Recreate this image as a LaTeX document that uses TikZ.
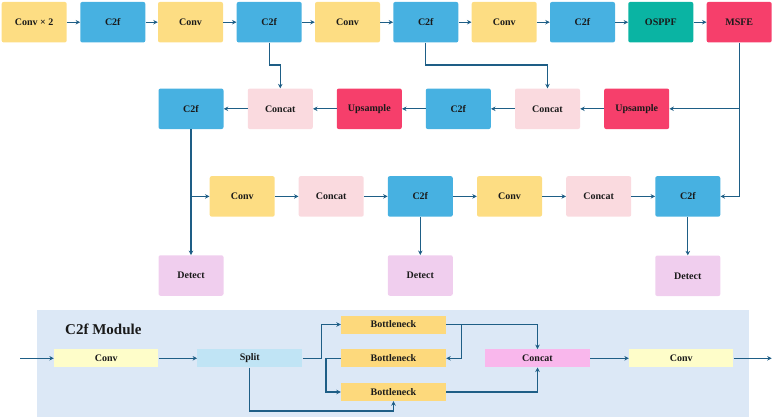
\documentclass[tikz,border=0pt]{standalone}
\usepackage{fontspec}
\setmainfont{Liberation Serif}
\usetikzlibrary{arrows.meta}
\definecolor{convY}{HTML}{FDDD83}
\definecolor{cfB}{HTML}{47B1E1}
\definecolor{osp}{HTML}{0AB4A3}
\definecolor{msfe}{HTML}{F63F6B}
\definecolor{catP}{HTML}{FADADF}
\definecolor{detL}{HTML}{F0CEEE}
\definecolor{arr}{HTML}{1E5E86}
\definecolor{bgB}{HTML}{DCE8F6}
\definecolor{bconv}{HTML}{FEFDC9}
\definecolor{bsplit}{HTML}{C0E4F5}
\definecolor{bneck}{HTML}{FDD97C}
\definecolor{bcat}{HTML}{F9B7EC}
\definecolor{txt}{HTML}{1A1A1A}
\begin{document}
\begin{tikzpicture}[x=1pt,y=-1pt,
  blk/.style={rectangle,rounded corners=2pt,minimum width=65pt,minimum height=40.5pt,inner sep=0pt,
    font=\fontsize{10}{12}\selectfont\bfseries,text=txt},
  convb/.style={blk,fill=convY},
  cfb/.style={blk,fill=cfB},
  ospb/.style={blk,fill=osp},
  msb/.style={blk,fill=msfe},
  catb/.style={blk,fill=catP},
  detb/.style={blk,fill=detL},
  sblk/.style={rectangle,minimum width=105pt,minimum height=18pt,inner sep=0pt,
    font=\fontsize{10}{12}\selectfont\bfseries,text=txt},
  conn/.style={draw=arr,line width=1.2pt},
  arw/.style={conn,-{Stealth[length=4.5pt,width=4.5pt]}}
]
\useasboundingbox (0,0) rectangle (779,418);
% top row
\node[convb] (t1) at (34.2,22.2) {Conv × 2};
\node[cfb]   (t2) at (112.8,22.2) {C2f};
\node[convb] (t3) at (190.5,22.2) {Conv};
\node[cfb]   (t4) at (269.2,22.2) {C2f};
\node[convb] (t5) at (347.5,22.2) {Conv};
\node[cfb]   (t6) at (425.8,22.2) {C2f};
\node[convb] (t7) at (504.2,22.2) {Conv};
\node[cfb]   (t8) at (582.5,22.2) {C2f};
\node[ospb]  (t9) at (660.8,22.2) {OSPPF};
\node[msb]   (t10) at (739.2,22.2) {MSFE};
% row 2
\node[cfb]  (m1) at (191,108.8) {C2f};
\node[catb] (m2) at (280.3,108.8) {Concat};
\node[msb]  (m3) at (369.3,108.8) {Upsample};
\node[cfb]  (m4) at (458.3,108.8) {C2f};
\node[catb] (m5) at (547.5,108.8) {Concat};
\node[msb]  (m6) at (636.7,108.8) {Upsample};
% row 3
\node[convb] (r1) at (242.2,196.4) {Conv};
\node[catb]  (r2) at (331.2,196.4) {Concat};
\node[cfb]   (r3) at (420.3,196.4) {C2f};
\node[convb] (r4) at (509.5,196.4) {Conv};
\node[catb]  (r5) at (598.7,196.4) {Concat};
\node[cfb]   (r6) at (687.8,196.4) {C2f};
% detect
\node[detb] (d1) at (191,275.5) {Detect};
\node[detb] (d2) at (420.3,275.5) {Detect};
\node[detb] (d3) at (687.8,275.8) {Detect};
% top row arrows
\foreach \a/\b in {t1/t2,t2/t3,t3/t4,t4/t5,t5/t6,t6/t7,t7/t8,t8/t9,t9/t10}
  \draw[arw] (\a) -- (\b);
% row 2 arrows
\foreach \a/\b in {m6/m5,m5/m4,m4/m3,m3/m2,m2/m1}
  \draw[arw] (\a) -- (\b);
% row 3 arrows
\foreach \a/\b in {r1/r2,r2/r3,r3/r4,r4/r5,r5/r6}
  \draw[arw] (\a) -- (\b);
% skip connections
\draw[arw] (t4.south) -- (269.2,65) -| (m2.north);
\draw[arw] (t6.south) -- (425.8,65) -| (m5.north);
\coordinate (msd) at (t10.center |- m6.center);
\draw[arw] (t10.south) |- (r6.east);
\draw[arw] (msd) -- (m6.east);
\draw[arw] (m1.south) -- (d1.north);
\coordinate (m1b) at (m1.center |- r1.center);
\draw[arw] (m1b) -- (r1.west);
\draw[arw] (r3.south) -- (d2.north);
\draw[arw] (r6.south) -- (d3.north);
% bottom panel
\fill[bgB] (36.7,310) rectangle (749.3,416.7);
\node[anchor=west,font=\fontsize{15}{18}\selectfont\bfseries,text=txt,inner sep=0pt] (title) at (65,329) {C2f Module};
\node[sblk,fill=bconv,minimum width=104.3pt] (bc1) at (106.2,358.3) {Conv};
\node[sblk,fill=bsplit] (bs) at (249.8,358.3) {Split};
\node[sblk,fill=bneck] (bn1) at (393.5,324.5) {Bottleneck};
\node[sblk,fill=bneck] (bn2) at (393.5,358.3) {Bottleneck};
\node[sblk,fill=bneck] (bn3) at (393.5,392) {Bottleneck};
\node[sblk,fill=bcat] (bcat) at (537.5,358.3) {Concat};
\node[sblk,fill=bconv,minimum width=104.3pt] (bc2) at (681.2,358.3) {Conv};
\coordinate (bin) at (20,358.3);
\coordinate (bout) at (771.7,358.3);
\draw[arw] (bin) -- (bc1.west);
\draw[arw] (bc1.east) -- (bs.west);
\draw[arw] (bs.east) -- (321.7,358.3) |- (bn1.west);
\draw[arw] (bn2.west) -- (326,358.3) |- (bn3.west);
\draw[arw] (bs.south) -- (249.8,411) -| (bn3.south);
\draw[arw] (bn1.east) -| (bcat.north);
\draw[arw] (461.7,324.5) |- (bn2.east);
\draw[arw] (bn3.east) -| (bcat.south);
\draw[arw] (bcat.east) -- (bc2.west);
\draw[arw] (bc2.east) -- (bout);
\end{tikzpicture}
\end{document}
